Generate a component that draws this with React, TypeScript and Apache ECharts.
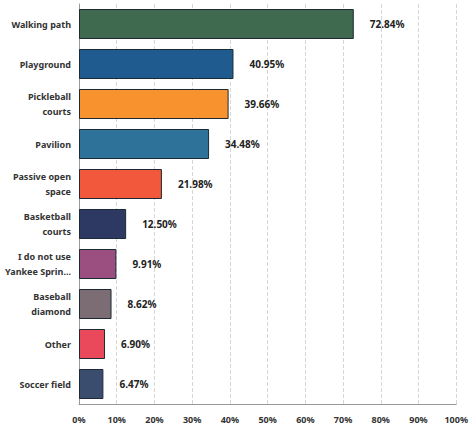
import React, { useEffect, useRef } from "react";
import * as echarts from "echarts";

const categories = [
  "Walking path",
  "Playground",
  "Pickleball\ncourts",
  "Pavilion",
  "Passive open\nspace",
  "Basketball\ncourts",
  "I do not use\nYankee Sprin...",
  "Baseball\ndiamond",
  "Other",
  "Soccer field",
];
const values = [72.84, 40.95, 39.66, 34.48, 21.98, 12.5, 9.91, 8.62, 6.9, 6.47];
const colors = [
  "#3f6a50",
  "#1f5b8e",
  "#f7922e",
  "#2e7199",
  "#f2583b",
  "#2d3963",
  "#9a4f80",
  "#7c6c73",
  "#e9495b",
  "#3b4d6e",
];

export default function App() {
  const ref = useRef<HTMLDivElement>(null);
  useEffect(() => {
    const chart = echarts.init(ref.current!, undefined, { renderer: "svg" });
    chart.setOption({
      animation: false,
      grid: { left: 79, right: 9, top: 4, bottom: 25, containLabel: false },
      xAxis: {
        type: "value",
        min: 0,
        max: 100,
        interval: 10,
        axisLabel: {
          formatter: "{value}%",
          fontFamily: "Noto Sans",
          fontWeight: "bold",
          fontSize: 9,
          color: "#333",
          margin: 11,
        },
        axisLine: { show: true, lineStyle: { color: "#999" } },
        axisTick: { show: false },
        splitLine: { show: true, lineStyle: { type: "dashed", color: "#d6d6d6" } },
      },
      yAxis: {
        type: "category",
        inverse: true,
        data: categories,
        axisLine: { show: true, lineStyle: { color: "#999" } },
        axisTick: { show: false },
        axisLabel: {
          fontFamily: "Noto Sans",
          fontWeight: "bold",
          fontSize: 9,
          color: "#333",
          align: "right",
          margin: 8,
          lineHeight: 15,
        },
      },
      series: [
        {
          type: "bar",
          barCategoryGap: "25%",
          data: values.map((v, i) => ({
            value: v,
            itemStyle: { color: colors[i], borderColor: "#1c2a33", borderWidth: 1 },
          })),
          label: {
            show: true,
            position: "right",
            distance: 16,
            formatter: (p: any) => p.value.toFixed(2) + "%",
            fontFamily: "Noto Sans",
            fontWeight: "bold",
            fontSize: 10,
            color: "#222",
          },
        },
      ],
    });
    return () => chart.dispose();
  }, []);
  return (
    <div
      ref={ref}
      style={{ position: "absolute", left: 0, top: 0, width: 471, height: 429, background: "#fff" }}
    />
  );
}
